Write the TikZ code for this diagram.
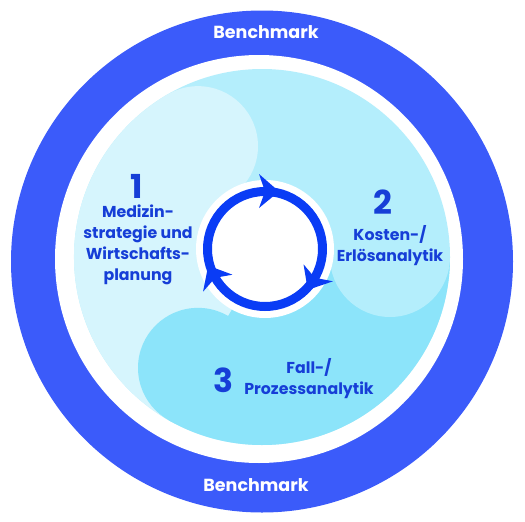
\documentclass[tikz,border=0pt]{standalone}
\usepackage{fontspec}
\setmainfont{Poppins}
\definecolor{bandblue}{RGB}{59,91,250}
\definecolor{ringblue}{RGB}{10,60,245}
\definecolor{txtblue}{RGB}{22,62,215}
\definecolor{regA}{RGB}{214,245,253}
\definecolor{regB}{RGB}{180,238,252}
\definecolor{regC}{RGB}{140,228,250}
\tikzset{
  txt/.style={text=txtblue, align=center, inner sep=0pt, font=\fontsize{15.8}{21}\selectfont\bfseries},
  num/.style={text=txtblue, inner sep=0pt, font=\fontsize{33}{33}\selectfont\bfseries},
  bench/.style={text=white, inner sep=0pt, font=\fontsize{17.5}{20}\selectfont\bfseries},
  arrowtip/.style={fill=ringblue}
}
\begin{document}
\begin{tikzpicture}[x=1pt,y=-1pt]
\useasboundingbox (0,0) rectangle (525,522);
\coordinate (O) at (262,261.5);
\coordinate (W) at (259,259);
\coordinate (D) at (262,257);
\coordinate (R) at (265,249);
% outer band
\fill[bandblue] (O) circle[radius=251];
\fill[white] (W) circle[radius=204];
% swirl disk
\fill[regB] (D) circle[radius=188];
\fill[regC] (D) -- ++(0:188) arc[start angle=0, end angle=120, radius=188] -- cycle;
\fill[regB] (D) ++(0:128) circle[radius=60];
\fill[regA] (D) -- ++(120:188) arc[start angle=120, end angle=240, radius=188] -- cycle;
\fill[regA] (D) ++(-120:128) circle[radius=60];
\fill[regC] (D) ++(120:128) circle[radius=60];
% central cycle
\fill[white] (R) circle[radius=69];
\draw[ringblue, line width=9pt] (R) circle[radius=57.5];
\foreach \a in {0,120,240}{
  \begin{scope}[shift={(R)}, rotate=\a]
    \fill[arrowtip] (-6,-75) -- (14,-57.5) -- (-6,-41) -- (0,-57.5) -- cycle;
  \end{scope}
}
% texts
\node[bench] (b1) at (266,32) {Benchmark};
\node[bench] (b2) at (256,485) {Benchmark};
\node[num] (n1) at (137,186) {1};
\node[txt] (t1) at (138,245) {Medizin-\\strategie und\\Wirtschafts-\\planung};
\node[num] (n2) at (383,202) {2};
\node[txt] (t2) at (390,246) {Kosten-/\\Erlösanalytik};
\node[num] (n3) at (223,380) {3};
\node[txt] (t3) at (309,379) {Fall-/\\Prozessanalytik};
\end{tikzpicture}
\end{document}
